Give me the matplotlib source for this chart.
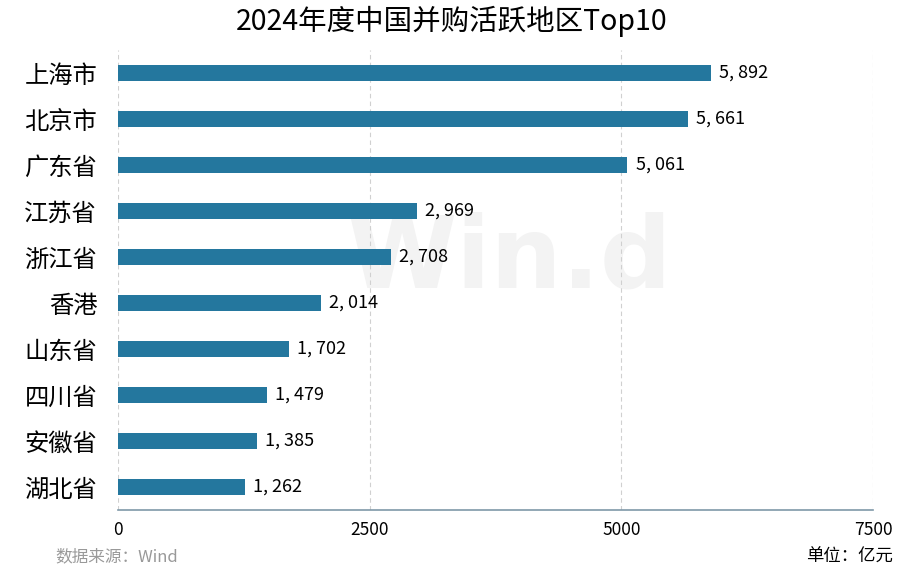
import matplotlib.pyplot as plt

plt.rcParams['font.family'] = ['Noto Sans CJK SC', 'DejaVu Sans']

regions = ["上海市", "北京市", "广东省", "江苏省", "浙江省", "香港", "山东省", "四川省", "安徽省", "湖北省"]
amounts = [5892, 5661, 5061, 2969, 2708, 2014, 1702, 1479, 1385, 1262]
xticks = [0, 2500, 5000, 7500]

fig = plt.figure(figsize=(9.04, 5.76), dpi=100)
ax = fig.add_axes([0.1305, 0.1146, 0.8352, 0.7986])

# watermark
ax.text(0.517, 0.543, "Win.d", transform=ax.transAxes, fontsize=72, fontweight='bold',
        color='#f3f3f3', ha='center', va='center', zorder=0, family='DejaVu Sans')

ax.barh(range(len(regions)), amounts, height=0.35, color='#24779e', zorder=2)
for i, v in enumerate(amounts):
    ax.text(v + 80, i, f"{v // 1000}, {v % 1000:03d}", va='center', ha='left', fontsize=13)

ax.set_xlim(0, 7500)
ax.set_ylim(9.5, -0.5)
ax.set_xticks(xticks)
ax.set_xticklabels([str(t) for t in xticks], fontsize=12.5)
ax.set_yticks(range(len(regions)))
ax.set_yticklabels(regions, fontsize=17.5)
ax.tick_params(axis='both', length=0)
ax.tick_params(axis='x', pad=8)
ax.tick_params(axis='y', pad=15)
ax.grid(axis='x', linestyle=(0, (4, 3)), color='#d0d0d0', linewidth=0.8, zorder=1)
for s in ['top', 'right', 'left']:
    ax.spines[s].set_visible(False)
ax.spines['bottom'].set_color('#7f98a8')
ax.spines['bottom'].set_linewidth(1.2)

fig.text(0.5, 0.962, "2024年度中国并购活跃地区Top10", ha='center', va='center', fontsize=20.5)
fig.text(0.061, 0.033, "数据来源：Wind", ha='left', va='center', fontsize=12, color='#999999')
fig.text(0.988, 0.033, "单位：亿元", ha='right', va='center', fontsize=12.5, color='black')

fig.savefig("out.png", dpi=100)
